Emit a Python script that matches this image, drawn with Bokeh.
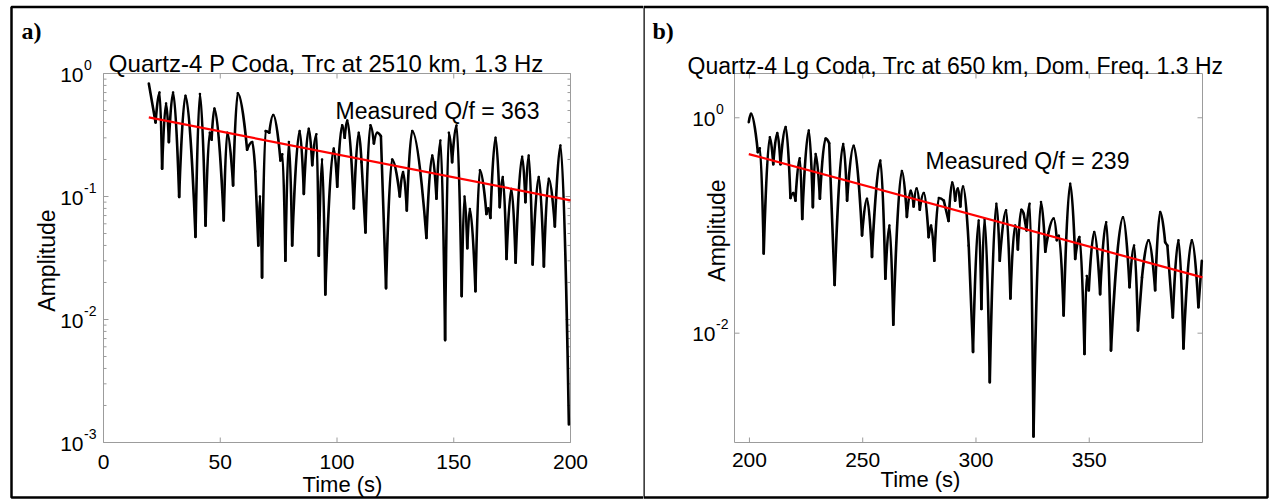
import math
from bokeh.plotting import figure
from bokeh.layouts import row
from bokeh.models import Range1d, Label
from bokeh.embed import file_html
from bokeh.resources import INLINE

# ---------------- data ----------------
# panel a) Quartz-4 P coda
ta = [19.4, 22.3, 24.0, 25.1, 26.8, 28.0, 29.8, 32.4, 35.1, 39.4, 41.3, 43.7, 45.5, 46.3, 47.5,
      51.5, 53.0, 55.5, 57.5, 61.5, 63.7, 65.0, 66.3, 67.0, 67.9, 69.4, 71.0, 72.7, 75.8, 76.6,
      77.9, 79.4, 80.8, 84.0, 85.8, 87.9, 89.4, 91.2, 92.2, 93.6, 95.0, 98.6, 100.1, 102.2, 103.3,
      104.4, 107.2, 109.3, 110.5, 112.2, 114.3, 115.8, 117.2, 118.8, 121.0, 123.6, 126.9, 128.3,
      129.9, 132.2, 138.3, 140.8, 142.6, 144.3, 146.3, 147.9, 149.3, 151.2, 153.4, 154.6, 155.8,
      156.9, 159.3, 161.2, 164.0, 164.8, 165.7, 167.9, 169.7, 171.0, 172.6, 174.7, 176.5, 179.3,
      180.7, 182.1, 183.8, 186.4, 188.6, 190.7, 193.3, 195.7, 199.3]
amp_a = [0.83, 0.40, 0.70, 0.168, 0.57, 0.277, 0.70, 0.099, 0.66, 0.047, 0.68, 0.058, 0.33, 0.29,
         0.52, 0.064, 0.33, 0.123, 0.69, 0.24, 0.277, 0.16, 0.04, 0.10, 0.022, 0.34, 0.33, 0.46,
         0.196, 0.22, 0.03, 0.277, 0.04, 0.34, 0.105, 0.355, 0.18, 0.32, 0.033, 0.2, 0.016, 0.245,
         0.12, 0.38, 0.3, 0.415, 0.08, 0.33, 0.19, 0.051, 0.38, 0.27, 0.33, 0.31, 0.018, 0.20,
         0.10, 0.158, 0.077, 0.34, 0.046, 0.215, 0.096, 0.285, 0.0068, 0.33, 0.19, 0.378, 0.0155,
         0.10, 0.038, 0.079, 0.017, 0.163, 0.072, 0.08, 0.067, 0.30, 0.082, 0.144, 0.031, 0.115,
         0.029, 0.21, 0.09, 0.215, 0.028, 0.144, 0.027, 0.139, 0.057, 0.26, 0.0014]
fit_a_t = [19.4, 200.0]
fit_a_amp = [0.44, 0.093]

# panel b) Quartz-4 Lg coda
tb = [199.7, 200.7, 203.7, 204.6, 206.3, 209.0, 210.5, 212.3, 213.7, 216.0, 218.1, 219.4, 220.3,
      222.2, 223.3, 226.2, 228.0, 229.2, 231.1, 233.6, 235.2, 237.6, 241.4, 243.1, 246.0, 249.7,
      251.9, 254.1, 257.8, 260.0, 261.8, 263.5, 267.3, 269.5, 271.2, 272.5, 273.8, 275.2, 277.0,
      279.1, 280.2, 281.6, 283.6, 285.8, 287.9, 289.5, 290.8, 292.0, 293.1, 294.3, 296.8, 298.7,
      301.2, 302.4, 303.8, 306.1, 309.0, 310.5, 313.3, 315.2, 317.3, 318.5, 320.0, 321.1, 322.3,
      323.7, 325.4, 328.7, 330.6, 334.3, 335.7, 336.6, 338.7, 341.6, 343.8, 345.7, 347.9, 348.9,
      349.8, 352.2, 354.8, 357.5, 359.6, 364.9, 367.8, 369.8, 371.5, 373.3, 376.2, 379.1, 381.3,
      383.5, 384.5, 386.9, 389.4, 391.6, 395.3, 398.2, 399.7]
amp_b = [0.91, 1.09, 0.48, 0.52, 0.055, 0.66, 0.37, 0.72, 0.37, 0.82, 0.18, 0.2, 0.17, 0.42, 0.115,
         0.76, 0.148, 0.46, 0.177, 0.64, 0.58, 0.028, 0.57, 0.17, 0.55, 0.081, 0.177, 0.051, 0.40,
         0.032, 0.1, 0.012, 0.32, 0.12, 0.21, 0.15, 0.22, 0.14, 0.2, 0.078, 0.1, 0.047, 0.18, 0.17,
         0.11, 0.25, 0.17, 0.22, 0.15, 0.23, 0.065, 0.0067, 0.111, 0.0168, 0.115, 0.0035, 0.159,
         0.047, 0.138, 0.021, 0.10, 0.06, 0.14, 0.128, 0.09, 0.159, 0.0011, 0.165, 0.057, 0.116,
         0.073, 0.08, 0.0146, 0.244, 0.049, 0.078, 0.0064, 0.034, 0.025, 0.087, 0.023, 0.107,
         0.0069, 0.119, 0.0267, 0.065, 0.0106, 0.033, 0.073, 0.025, 0.133, 0.07, 0.065, 0.014,
         0.073, 0.0072, 0.073, 0.0174, 0.047]
fit_b_t = [199.7, 400.0]
fit_b_amp = [0.46, 0.033]

# ticks and texts
xticks_a = [0, 50, 100, 150, 200]
yexp_a = [0, -1, -2, -3]
xticks_b = [200, 250, 300, 350]
yexp_b = [0, -2]
title_a = "Quartz-4 P Coda, Trc at 2510 km, 1.3 Hz"
title_b = "Quartz-4 Lg Coda, Trc at 650 km, Dom. Freq. 1.3 Hz"
note_a = "Measured Q/f = 363"
note_b = "Measured Q/f = 239"

# ---------------- styling ----------------
SANS = "Liberation Sans"
SERIF = "Liberation Serif"
GRAY = "#9c9c9c"
H = 500


def txt(p, x, y, text, size, align="center", baseline="middle", font=SANS, style="normal", angle=0.0):
    p.add_layout(Label(x=x, y=y, text=text, text_font=font, text_font_size=size,
                       text_font_style=style, text_align=align, text_baseline=baseline,
                       text_color="black", angle=angle))


def smooth_trace(p, t, amp, color, width):
    """Trace through the read extrema: rounded at maxima, sharp at minima."""
    n = len(t)
    is_max = [0 < i < n - 1 and amp[i] >= amp[i - 1] and amp[i] >= amp[i + 1] for i in range(n)]
    x0, y0, x1, y1, cx0, cy0, cx1, cy1 = [], [], [], [], [], [], [], []
    for i in range(n - 1):
        dx = t[i + 1] - t[i]
        x0.append(t[i]); y0.append(amp[i]); x1.append(t[i + 1]); y1.append(amp[i + 1])
        cx0.append(t[i] + 0.45 * dx if is_max[i] else t[i]); cy0.append(amp[i])
        cx1.append(t[i + 1] - 0.45 * dx if is_max[i + 1] else t[i + 1]); cy1.append(amp[i + 1])
    p.bezier(x0=x0, y0=y0, x1=x1, y1=y1, cx0=cx0, cy0=cy0, cx1=cx1, cy1=cy1,
             line_color=color, line_width=width, line_cap="round")


def panel(W, box, xr, ylog, xticks, yexps, minor, t, amp, fit_t, fit_amp,
          letter, title, title_size, title_cx, title_base, note, note_x, note_cy,
          ytick_right, amp_cx, amp_cy, xlab_cy, time_cx, time_cy, borders):
    fl, fr, ft, fb = box

    def px_x(px):
        return xr[0] + (px - fl) / (fr - fl) * (xr[1] - xr[0])

    def px_y(py):
        return 10 ** (ylog[1] - (py - ft) / (fb - ft) * (ylog[1] - ylog[0]))

    # the frame covers the whole canvas so that no text is clipped
    p = figure(width=W, height=H, x_range=Range1d(px_x(0), px_x(W)),
               y_range=Range1d(px_y(H), px_y(0)), y_axis_type="log",
               x_axis_location=None, y_axis_location=None,
               output_backend="svg", toolbar_location=None,
               min_border_left=0, min_border_right=0, min_border_top=0, min_border_bottom=0)
    p.title.visible = False
    p.grid.visible = False
    p.outline_line_color = None
    p.background_fill_color = "white"
    p.border_fill_color = "white"

    x0, x1 = xr
    y0, y1 = 10 ** ylog[0], 10 ** ylog[1]

    # axes box
    p.quad(left=[x0], right=[x1], bottom=[y0], top=[y1], fill_color=None,
           line_color=GRAY, line_width=1)
    # x ticks (inward, bottom and top)
    xin_b, xin_t = px_y(fb - 5), px_y(ft + 5)
    p.segment(x0=xticks, y0=[y0] * len(xticks), x1=xticks, y1=[xin_b] * len(xticks),
              line_color=GRAY, line_width=1)
    p.segment(x0=xticks, y0=[y1] * len(xticks), x1=xticks, y1=[xin_t] * len(xticks),
              line_color=GRAY, line_width=1)
    # y ticks (inward, left and right)
    yt = [10.0 ** e for e in yexps]
    p.segment(x0=[x0] * len(yt), y0=yt, x1=[px_x(fl + 5)] * len(yt), y1=yt, line_color=GRAY)
    p.segment(x0=[x1] * len(yt), y0=yt, x1=[px_x(fr - 5)] * len(yt), y1=yt, line_color=GRAY)
    if minor:
        ym = [m * 10.0 ** e for e in range(min(yexps), max(yexps)) for m in range(2, 10)]
        p.segment(x0=[x0] * len(ym), y0=ym, x1=[px_x(fl + 3)] * len(ym), y1=ym, line_color=GRAY)
        p.segment(x0=[x1] * len(ym), y0=ym, x1=[px_x(fr - 3)] * len(ym), y1=ym, line_color=GRAY)

    # data
    smooth_trace(p, t, amp, "black", 2.6)
    p.line(fit_t, fit_amp, line_color="#ff0000", line_width=2.2)

    # table borders
    bl, br, bt, bb = borders
    p.quad(left=[px_x(bl)], right=[px_x(br)], top=[px_y(bt)], bottom=[px_y(bb)],
           fill_color=None, line_color="black", line_width=2.5)

    txt(p, px_x(letter[1]), px_y(letter[2]), letter[0], "24px", align="left", font=SERIF, style="bold")
    txt(p, px_x(title_cx), px_y(title_base), title, title_size, baseline="alphabetic")
    txt(p, px_x(note_x), px_y(note_cy), note, "23px", align="left")

    # y tick labels: "10" with a raised exponent
    for e in yexps:
        py = ft + (ylog[1] - e) / (ylog[1] - ylog[0]) * (fb - ft)
        txt(p, px_x(ytick_right), px_y(py + 1), "10", "21px", align="right")
        txt(p, px_x(ytick_right + 0.5), px_y(py - 9), str(e), "14px", align="left")
    # x tick labels
    for v in xticks:
        txt(p, v, px_y(xlab_cy), str(v), "21px")
    txt(p, px_x(amp_cx), px_y(amp_cy), "Amplitude", "23px", angle=math.pi / 2)
    txt(p, px_x(time_cx), px_y(time_cy), "Time (s)", "22px")
    return p


pa = panel(643, (103, 570, 73, 442), (0, 200), (-3.0, 0.0), xticks_a, yexp_a, True,
           ta, amp_a, fit_a_t, fit_a_amp,
           ("a)", 21, 30), title_a, "24px", 326, 63, note_a, 335, 110,
           83, 46, 260, 461.5, 342, 484,
           (11, 644.5, 6.5, 497))
pb = panel(627, (91, 559, 73, 442), (193.4, 400.0), (-3.015, 0.411), xticks_b, yexp_b, False,
           tb, amp_b, fit_b_t, fit_b_amp,
           ("b)", 9, 30), title_b, "23px", 312, 65, note_b, 282, 160,
           72, 73, 230, 459, 277, 479,
           (0.0, 624, 6.5, 497))

layout = row(pa, pb)
open("out.html", "w").write(file_html(layout, INLINE))
